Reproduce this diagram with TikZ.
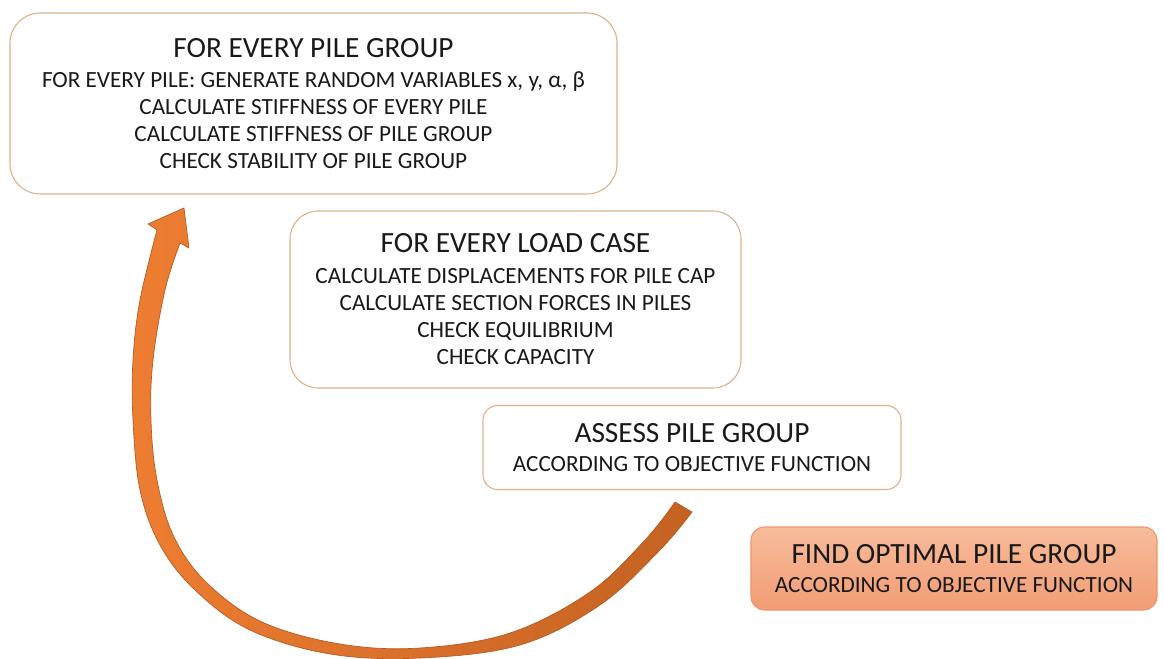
\documentclass[tikz,border=0pt]{standalone}
\usepackage{fontspec}
\setmainfont{Carlito}
\definecolor{boxline}{RGB}{222,176,136}
\definecolor{textdark}{RGB}{25,25,25}
\definecolor{arrowlight}{RGB}{237,125,49}
\definecolor{arrowdark}{RGB}{196,98,34}
\definecolor{arrowedge}{RGB}{180,90,35}
\definecolor{findtop}{RGB}{248,188,155}
\definecolor{findbot}{RGB}{241,156,116}
\definecolor{findline}{RGB}{236,150,110}
\newcommand{\headline}[1]{{\fontsize{22}{24}\selectfont #1}}
\begin{document}
\begin{tikzpicture}[x=0.75pt,y=-0.75pt,
  stepbox/.style={draw=boxline, line width=0.8pt, fill=white, align=center,
    inner sep=0pt, text=textdark, font=\fontsize{17.4}{20.25}\selectfont},
  findbox/.style={stepbox, draw=findline, top color=findtop, bottom color=findbot}]
\useasboundingbox (0,0) rectangle (1164,659);

% curved return arrow
\path[draw=arrowedge, line width=0.5pt, left color=arrowlight, right color=arrowdark]
  (189,248) -- (184,208) -- (148,224) -- (157,230)
  -- plot[smooth, tension=0.6] coordinates {(157,230) (140,300) (133,360) (133,420)
    (140,490) (160,545) (195,590) (250,630) (330,654) (420,658) (520,645)
    (600,605) (660,550) (692,512)}
  -- (675,502)
  -- plot[smooth, tension=0.6] coordinates {(675,502) (645,540) (590,592) (510,633)
    (420,648) (340,644) (262,622) (207,583) (174,537) (157,480) (151,420)
    (153,360) (165,290) (180,243)}
  -- cycle;

% process boxes
\node[stepbox, rounded corners=22.5pt, minimum width=455.25pt, minimum height=135.75pt]
  (group) at (313.5,103.5)
  {\headline{FOR EVERY PILE GROUP}\\[2pt]
   FOR EVERY PILE: GENERATE RANDOM VARIABLES x, y, α, β\\
   CALCULATE STIFFNESS OF EVERY PILE\\
   CALCULATE STIFFNESS OF PILE GROUP\\
   CHECK STABILITY OF PILE GROUP};

\node[stepbox, rounded corners=21pt, minimum width=338.25pt, minimum height=132.75pt]
  (load) at (515.5,299.5)
  {\headline{FOR EVERY LOAD CASE}\\[3pt]
   CALCULATE DISPLACEMENTS FOR PILE CAP\\
   CALCULATE SECTION FORCES IN PILES\\
   CHECK EQUILIBRIUM\\
   CHECK CAPACITY};

\node[stepbox, rounded corners=11pt, minimum width=313.5pt, minimum height=63pt]
  (assess) at (692,447.5)
  {\headline{ASSESS PILE GROUP}\\[2pt]
   ACCORDING TO OBJECTIVE FUNCTION};

\node[findbox, rounded corners=10pt, minimum width=304.5pt, minimum height=62.25pt]
  (find) at (954,568.5)
  {\headline{FIND OPTIMAL PILE GROUP}\\[2pt]
   ACCORDING TO OBJECTIVE FUNCTION};
\end{tikzpicture}
\end{document}
